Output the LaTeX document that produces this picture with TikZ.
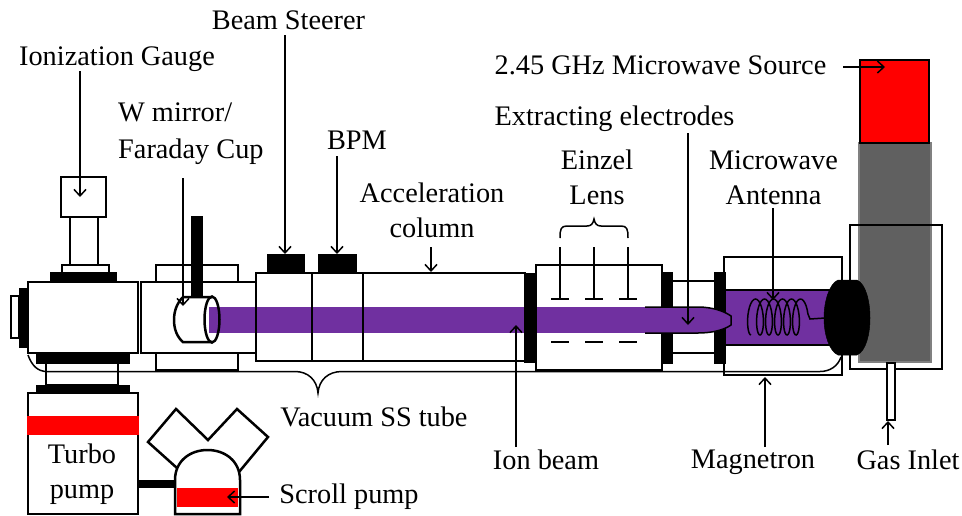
\documentclass[tikz,border=0pt]{standalone}
\usepackage{fontspec}
\setmainfont{Liberation Serif}
\usetikzlibrary{arrows.meta,positioning}
\definecolor{beamviolet}{HTML}{7030A0}
\definecolor{sourcegray}{HTML}{606060}
\tikzset
{
    wallpart/.style = {draw=black, line width=2.5pt, fill=white},
    blackpart/.style = {draw=black, line width=0.5pt, fill=black},
    redpart/.style = {fill=red},
    beampart/.style = {fill=beamviolet},
    thinline/.style = {draw=black, line width=1.5pt},
    pointer/.style = {thinline, -{Straight Barb[length=6.5pt,width=12pt,line width=1.5pt]}},
    tag/.style = {inner sep=0pt, align=center, font=\fontsize{28.3}{35}\selectfont}
}

\begin{document}
\begin{tikzpicture}[x=1pt,y=-1pt]
\useasboundingbox (0,0) rectangle (962,515);

% gauge and first chamber
\draw[wallpart] (61,177) rectangle (106,217);
\draw[wallpart] (70,217) rectangle (98,265);
\draw[wallpart] (62,265) rectangle (109,273);
\draw[blackpart] (50,272) rectangle (116,282);
\draw[wallpart] (11,296) rectangle (19,338);
\draw[blackpart] (19,288) rectangle (30,347);
\draw[wallpart] (28,282) rectangle (138,353);
\draw[wallpart] (46,363) rectangle (118,385);
\draw[blackpart] (36,353) rectangle (129,363);
\draw[blackpart] (36,385) rectangle (129,393);

% turbo and scroll pump
\draw[wallpart] (28,393) rectangle (138,514);
\fill[redpart] (27,416) rectangle (139,435);
\draw[blackpart] (138,480) rectangle (175,487);
\draw[wallpart] (177,468) -- (148,442) -- (176,409) -- (208,440) -- (237,409) -- (268,437) -- (239,472);
\draw[wallpart] (175,514) -- (175,480) .. controls (175,461) and (190,450) .. (207.5,450) .. controls (225,450) and (240,461) .. (240,480) -- (240,514) -- cycle;
\fill[redpart] (177,488) rectangle (238,507);

% long tube outline
\draw[wallpart] (141,282) rectangle (256,353);
\draw[wallpart] (156,265) rectangle (238,282);
\draw[wallpart] (156,353) rectangle (238,370);
\draw[wallpart] (256,273) rectangle (312,361);
\draw[wallpart] (312,273) rectangle (363,361);
\draw[wallpart] (363,273) rectangle (525,361);
\draw[blackpart] (267,254) rectangle (304,273);
\draw[blackpart] (318,254) rectangle (356,273);
\draw[wallpart] (536,265) rectangle (662,370);
\draw[wallpart] (672,281) rectangle (715,353);
\draw[wallpart] (724,257) rectangle (842,375);

% cup and beam
\draw[wallpart] (212,297) -- (183,297) .. controls (177,303) and (174,311) .. (174,320) .. controls (174,329) and (177,337) .. (183,342) -- (212,342);
\fill[white] (205,299) rectangle (212,340);
\draw[blackpart] (191,216) rectangle (202,297);
\fill[beampart] (209,307) rectangle (660,333);
\draw[line width=2.5pt] (212,319.5) ellipse (7.5 and 23);
\draw[line width=2.5pt] (256,273) -- (256,361) (312,273) -- (312,361) (363,273) -- (363,361);
\draw[blackpart] (524,273) rectangle (536,362);
\draw[blackpart] (662,272) rectangle (672,363);
\draw[blackpart] (714,272) rectangle (725,363);

% plasma and source
\draw[wallpart] (850,225) rectangle (942,369);
\draw[draw=gray, line width=1.5pt, fill=sourcegray] (859,143) rectangle (931,362);
\draw[draw=black, line width=2.5pt, fill=red] (860,60) rectangle (929,143);
\draw[line width=2.5pt] (850,225) -- (942,225);
\draw[wallpart] (887,363) rectangle (895,420);
\fill[beampart] (726,290) rectangle (830,345);
\draw[line width=2.5pt] (725,290) -- (830,290) (725,345) -- (830,345);
\draw[thinline, fill=beamviolet] (645,307) -- (698,307) .. controls (712,307) and (724,311) .. (731,316) -- (731,325) .. controls (724,330) and (712,333) .. (698,333) -- (645,333);
\fill[blackpart] (838,280) -- (857,280) .. controls (866,284) and (870,302) .. (870,318) .. controls (870,334) and (866,351) .. (857,355) -- (838,355) .. controls (829,351) and (824,334) .. (824,318) .. controls (824,302) and (829,284) .. (838,280) -- cycle;
\draw[thinline] plot[domain=180:2240, samples=150] ({746.5+\x/360*9+5.5*sin(\x)}, {317-18*cos(\x)}) -- (810,319) -- (825,318);

% einzel electrodes
\foreach \x in {560,594,628}
{
    \draw[thinline] (\x,247) -- (\x,299) (\x-9,299) -- (\x+9,299);
    \draw[thinline] (\x-9,342) -- (\x+9,342);
}
\draw[thinline] (560,238) .. controls (560,229) and (561,226) .. (567,226) -- (587,226) .. controls (591,226) and (593,224) .. (594,219) .. controls (595,224) and (597,226) .. (601,226) -- (621,226) .. controls (627,226) and (628,229) .. (628,238);

% thin tube bracket
\draw[thinline] (28,355) .. controls (32,366) and (38,371.5) .. (47,371.5) -- (295,371.5) .. controls (308,371.5) and (317,380) .. (318,393) .. controls (319,380) and (328,371.5) .. (342,371.5) -- (820,371.5) .. controls (830,371.5) and (838,366) .. (841,357);

% labels
\node[tag] (beamsteerer) at (288.5,20) {Beam Steerer};
\node[tag] (iongauge) at (117,59) {Ionization Gauge};
\node[tag, align=left, anchor=west] (wmirror) at (118,134) {W mirror/\\[2pt]Faraday Cup};
\node[tag] (bpm) at (357,140) {BPM};
\node[tag] (acccolumn) at (432,210.5) {Acceleration\\column};
\node[tag] (mwsource) at (660.5,65) {2.45 GHz Microwave Source};
\node[tag] (extracting) at (614.5,119) {Extracting electrodes};
\node[tag] (einzel) at (597,177.5) {Einzel\\Lens};
\node[tag] (mwantenna) at (773.5,177.5) {Microwave\\Antenna};
\node[tag] (vacuumtube) at (374,417) {Vacuum SS tube};
\node[tag] (turbo) at (82,474.5) {Turbo\\pump};
\node[tag] (scroll) at (349,497) {Scroll pump};
\node[tag] (ionbeam) at (546,460) {Ion beam};
\node[tag] (magnetron) at (753,462) {Magnetron};
\node[tag] (gasinlet) at (908,460) {Gas Inlet};

% pointer ends
\coordinate (gaugefrom) at (80,71);
\coordinate (gaugetip) at (80,197);
\coordinate (mirrorfrom) at (183,178);
\coordinate (mirrortip) at (183,306);
\coordinate (steerfrom) at (285,35);
\coordinate (steertip) at (285,254);
\coordinate (bpmfrom) at (337,156);
\coordinate (bpmtip) at (337,254);
\coordinate (columnfrom) at (431,247);
\coordinate (columntip) at (431,272);
\coordinate (beamfrom) at (516,447);
\coordinate (beamtip) at (516,325);
\coordinate (extractfrom) at (688,133);
\coordinate (extracttip) at (688,325);
\coordinate (antennafrom) at (773,208);
\coordinate (antennatip) at (773,300);
\coordinate (magnetfrom) at (765,447);
\coordinate (magnettip) at (765,377);
\coordinate (gasfrom) at (888,445);
\coordinate (gastip) at (888,421);
\coordinate (sourcefrom) at (843,67);
\coordinate (sourcetip) at (885,67);
\coordinate (scrollfrom) at (269,497);
\coordinate (scrolltip) at (227,497);

\draw[pointer] (gaugefrom) -- (gaugetip);
\draw[pointer] (mirrorfrom) -- (mirrortip);
\draw[pointer] (steerfrom) -- (steertip);
\draw[pointer] (bpmfrom) -- (bpmtip);
\draw[pointer] (columnfrom) -- (columntip);
\draw[pointer] (beamfrom) -- (beamtip);
\draw[pointer] (extractfrom) -- (extracttip);
\draw[pointer] (antennafrom) -- (antennatip);
\draw[pointer] (magnetfrom) -- (magnettip);
\draw[pointer] (gasfrom) -- (gastip);
\draw[pointer] (sourcefrom) -- (sourcetip);
\draw[pointer] (scrollfrom) -- (scrolltip);
\end{tikzpicture}
\end{document}
